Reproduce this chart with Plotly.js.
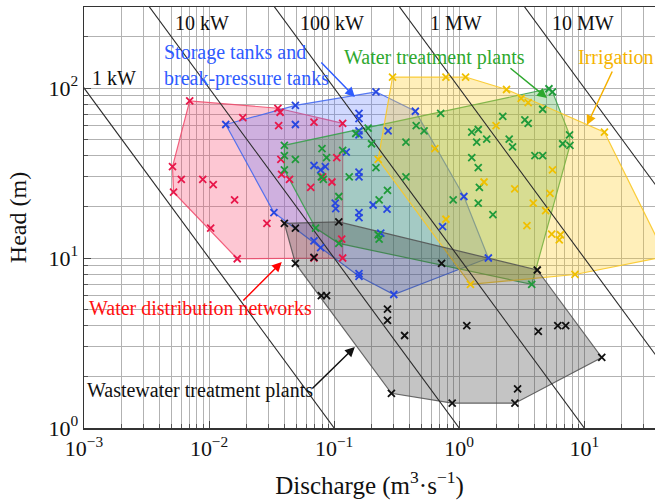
<!DOCTYPE html>
<html>
<head>
<meta charset="utf-8">
<script src="https://cdn.plot.ly/plotly-3.0.1.min.js"></script>
<style>
  html, body { margin: 0; padding: 0; background: #fff; }
  #chart { width: 655px; height: 504px; }
</style>
</head>
<body>
<div id="chart"></div>
<script>
// Discharge Q (m3/s) and head H (m) of each site, grouped by application

// Water distribution networks
const wdnQ = [0.0070, 0.0186, 0.0355, 0.037, 0.036, 0.069, 0.117, 0.0051, 0.0060, 0.0089, 0.0108, 0.0052, 0.016,
              0.0375, 0.038, 0.044, 0.065, 0.0103, 0.029, 0.0168, 0.069, 0.117, 0.115, 0.096, 0.105, 0.081];
const wdnH = [84, 67, 76, 72, 60, 63, 62, 34.5, 29, 29, 27, 24.4, 22,
              38, 31, 29, 26, 15, 16, 9.9, 10, 10, 12.9, 28, 39, 30];

// Storage tanks and break-pressure tanks
const tankQ = [0.049, 0.0136, 0.049, 0.069, 0.078, 0.085, 0.033, 0.069, 0.078, 0.216, 0.158, 0.158, 0.158, 0.158,
               0.27, 0.446, 0.125, 0.158, 0.158, 1.09, 0.158, 0.158, 0.205, 0.265, 0.102, 0.103, 0.236, 0.736,
               0.158, 0.158, 0.30, 1.71];
const tankH = [79, 61, 61, 35, 33, 34.5, 18.5, 12.6, 11.5, 95, 71, 66, 56, 53,
               56, 73, 42, 32, 30, 23, 18.5, 17.3, 20.5, 19.4, 21, 19.5, 14, 15.3,
               8.1, 7.8, 6.1, 10];

// Water treatment plants
const wtpQ = [0.040, 0.040, 0.049, 0.040, 0.080, 0.087, 0.079, 0.082, 0.071, 0.109, 0.109, 0.225, 0.229, 0.267,
              0.229, 0.895, 1.42, 1.45, 0.187, 0.149, 0.199, 0.375, 0.453, 0.524, 0.711, 0.216, 0.375, 0.132,
              0.117, 1.26, 1.42, 1.38, 1.66, 1.26, 1.42, 2.23, 3.35, 3.56, 2.51, 2.67, 4.03, 4.65, 4.65,
              7.63, 6.72, 7.68, 5.22, 5.57, 1.86, 3.80];
const wtpH = [46, 40, 38, 33, 44, 39, 30, 29, 15, 12.2, 23, 13.7, 12.9, 25,
              22, 22, 21, 26, 58, 54, 47, 48, 60, 56, 71, 34, 30, 30,
              43, 55, 57, 48, 50, 39, 34, 68, 65, 62, 50, 45, 40, 40, 75,
              53, 47, 46, 99, 95, 18, 7.0];

// Irrigation
const irrQ = [0.293, 0.783, 1.125, 2.39, 3.13, 3.56, 14.5, 1.97, 0.225, 0.639, 1.58, 2.78, 5.57, 5.32,
              3.91, 4.91, 3.48, 5.49, 6.45, 6.31, 0.783, 1.23, 8.43, 45];
const irrH = [116, 116, 116, 98, 87, 82, 55, 60, 38, 44, 28, 25.5, 33, 24,
              21, 19, 15.5, 13.8, 13.7, 12.8, 16.9, 7.0, 8.0, 10.2];

// Wastewater treatment plants
const wwtpQ = [0.040, 0.049, 0.049, 0.069, 0.079, 0.087, 0.109, 0.723, 4.21, 0.267, 0.267, 0.366, 1.15,
               4.29, 6.14, 7.10, 13.8, 0.287, 0.879, 2.79, 2.93];
const wwtpH = [16, 15, 9.3, 10.1, 6.0, 6.0, 16.3, 9.3, 8.5, 5.0, 4.3, 3.5, 4.0,
               3.7, 4.0, 4.0, 2.6, 1.6, 1.4, 1.4, 1.7];

// Iso-power lines (kW), P = rho*g*Q*H with rho*g ~ 10 kN/m3
const powerKW = [1, 10, 100, 1000, 10000];
const powerLabels = ['1 kW', '10 kW', '100 kW', '1 MW', '10 MW'];

// Axis ticks
const xTickVals = [0.001, 0.01, 0.1, 1, 10];
const xTickText = ['10<sup>−3</sup>', '10<sup>−2</sup>', '10<sup>−1</sup>', '10<sup>0</sup>', '10<sup>1</sup>'];
const yTickVals = [1, 10, 100];
const yTickText = ['10<sup>0</sup>', '10<sup>1</sup>', '10<sup>2</sup>'];

// Convex hull in log-log space (monotone chain)
function hull(qs, hs) {
  const p = qs.map((q, i) => [Math.log10(q), Math.log10(hs[i])]);
  p.sort((a, b) => a[0] - b[0] || a[1] - b[1]);
  const cross = (o, a, b) => (a[0] - o[0]) * (b[1] - o[1]) - (a[1] - o[1]) * (b[0] - o[0]);
  const lo = [], up = [];
  for (const pt of p) {
    while (lo.length >= 2 && cross(lo[lo.length - 2], lo[lo.length - 1], pt) <= 0) lo.pop();
    lo.push(pt);
  }
  for (let i = p.length - 1; i >= 0; i--) {
    const pt = p[i];
    while (up.length >= 2 && cross(up[up.length - 2], up[up.length - 1], pt) <= 0) up.pop();
    up.push(pt);
  }
  lo.pop(); up.pop();
  const h = lo.concat(up);
  h.push(h[0]);
  return { x: h.map(v => Math.pow(10, v[0])), y: h.map(v => Math.pow(10, v[1])) };
}

const groups = [
  { q: wdnQ,  h: wdnH,  mark: '#e8174a', edge: 'rgba(240,70,105,0.85)', fill: 'rgba(250,70,110,0.30)' },
  { q: tankQ, h: tankH, mark: '#2747e0', edge: 'rgba(60,100,240,0.85)', fill: 'rgba(90,120,255,0.28)' },
  { q: wtpQ,  h: wtpH,  mark: '#1f9a3a', edge: 'rgba(50,160,70,0.85)',  fill: 'rgba(60,170,60,0.30)' },
  { q: irrQ,  h: irrH,  mark: '#f0c000', edge: 'rgba(250,200,40,0.90)', fill: 'rgba(255,205,40,0.32)' },
  { q: wwtpQ, h: wwtpH, mark: '#111111', edge: 'rgba(80,80,80,0.85)',   fill: 'rgba(60,60,60,0.30)' }
];

const traces = [];
groups.forEach(g => {
  const hp = hull(g.q, g.h);
  traces.push({ type: 'scatter', mode: 'lines', x: hp.x, y: hp.y, fill: 'toself',
                fillcolor: g.fill, line: { color: g.edge, width: 1.2 }, hoverinfo: 'skip' });
});

powerKW.forEach(p => {
  const qh = p / 10;
  traces.push({ type: 'scatter', mode: 'lines', x: [qh / 1000, qh * 10], y: [1000, 0.1],
                line: { color: '#2a2a2a', width: 1.1 }, hoverinfo: 'skip' });
});

groups.forEach(g => {
  traces.push({ type: 'scatter', mode: 'markers', x: g.q, y: g.h,
                marker: { symbol: 'x-thin', size: 7, line: { width: 1.8, color: g.mark } } });
});

function decadeMinors(lo, hi) {
  const out = [];
  for (let e = lo; e <= hi; e++) for (let m = 2; m <= 9; m++) out.push(m * Math.pow(10, e));
  return out;
}

const serif = '"Liberation Serif", "Times New Roman", serif';
const gridCol = '#b2b2b2';
const labelFont = { family: serif, size: 20 };

const annotations = [];
// iso-power labels
const powerLabelPos = [[-2.954, 2.059], [-2.29, 2.382], [-1.29, 2.382], [-0.25, 2.382], [0.726, 2.382]];
powerLabels.forEach((t, i) => {
  annotations.push({ text: t, x: powerLabelPos[i][0], y: powerLabelPos[i][1], xref: 'x', yref: 'y',
                     xanchor: 'left', yanchor: 'middle', showarrow: false,
                     font: Object.assign({}, labelFont, { color: '#111' }) });
});
// application labels
const appLabels = [
  { t: 'Storage tanks and<br>break-pressure tanks', x: -2.378, y: 2.132, c: '#2f5cff' },
  { t: 'Water treatment plants', x: -0.94, y: 2.182, c: '#2ea82e' },
  { t: 'Irrigation', x: 0.93, y: 2.182, c: '#f5b400' },
  { t: 'Water distribution networks', x: -2.978, y: 0.706, c: '#ff1010' },
  { t: 'Wastewater treatment plants', x: -2.994, y: 0.2235, c: '#111' }
];
appLabels.forEach(a => {
  annotations.push({ text: a.t, x: a.x, y: a.y, xref: 'x', yref: 'y', xanchor: 'left', yanchor: 'middle',
                     align: 'left', showarrow: false, font: Object.assign({}, labelFont, { color: a.c }) });
});
// pointer arrows
const arrows = [
  { x: -0.8344, y: 1.947, ax: -35, ay: -36, c: '#2f5cff' },
  { x: 0.7016, y: 1.941, ax: -38, ay: -31, c: '#2ea82e' },
  { x: 1.0216, y: 1.7824, ax: 26, ay: -55, c: '#f5b000' },
  { x: -1.4184, y: 0.9765, ax: -40, ay: 40, c: '#ff0000' },
  { x: -0.8344, y: 0.4765, ax: -44, ay: 43, c: '#111' }
];
arrows.forEach(a => {
  annotations.push({ text: '', x: a.x, y: a.y, xref: 'x', yref: 'y', ax: a.ax, ay: a.ay,
                     showarrow: true, arrowhead: 2, arrowsize: 1.3, arrowwidth: 1.5, arrowcolor: a.c, standoff: 0 });
});

const axisCommon = {
  type: 'log', tickmode: 'array', ticks: 'inside', ticklen: 7, tickwidth: 1, tickcolor: '#444',
  showline: true, linecolor: '#333', linewidth: 1.5,
  showgrid: true, gridcolor: gridCol, gridwidth: 1, zeroline: false,
  tickfont: { family: serif, size: 22, color: '#111' }
};

const layout = {
  width: 655, height: 504,
  margin: { l: 84, r: 0, t: 7, b: 76 },
  paper_bgcolor: '#fff', plot_bgcolor: '#fff',
  showlegend: false,
  font: { family: serif, color: '#111' },
  xaxis: Object.assign({}, axisCommon, {
    range: [-3, 1.5656], tickvals: xTickVals, ticktext: xTickText, mirror: true,
    minor: { tickmode: 'array', tickvals: decadeMinors(-3, 1), ticks: 'inside', ticklen: 4,
             tickcolor: '#555', showgrid: true, gridcolor: gridCol, gridwidth: 1 },
    title: { text: 'Discharge (m<sup>3</sup>·s<sup>−1</sup>)', font: { family: serif, size: 25 }, standoff: 16 }
  }),
  yaxis: Object.assign({}, axisCommon, {
    range: [0, 2.4765], tickvals: yTickVals, ticktext: yTickText,
    minor: { tickmode: 'array', tickvals: decadeMinors(0, 2), ticks: 'inside', ticklen: 4,
             tickcolor: '#555', showgrid: true, gridcolor: gridCol, gridwidth: 1 },
    title: { text: 'Head (m)', font: { family: serif, size: 24 } }
  }),
  annotations: annotations
};

Plotly.newPlot('chart', traces, layout, { displayModeBar: false, staticPlot: true });
</script>
</body>
</html>
